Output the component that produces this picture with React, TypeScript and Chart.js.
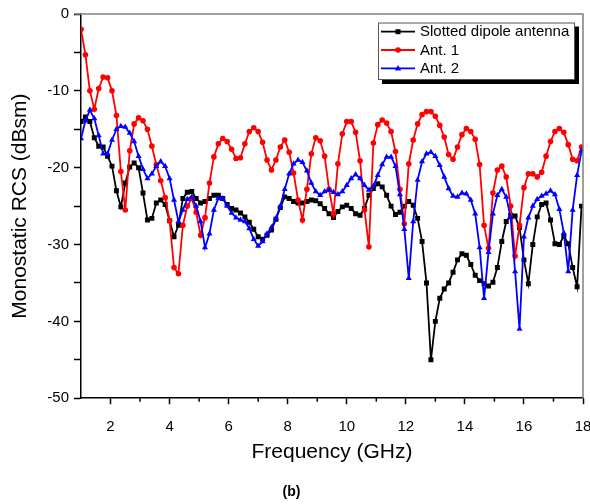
import React, { useEffect, useRef } from 'react';
import { Chart, registerables } from 'chart.js';

Chart.register(...registerables);

const FONT = '"Liberation Sans", Arial, sans-serif';

const frequencies = [
  1, 1.15, 1.3, 1.45, 1.6, 1.75, 1.9, 2.05, 2.2, 2.35,
  2.5, 2.65, 2.8, 2.95, 3.1, 3.25, 3.4, 3.55, 3.7, 3.85,
  4, 4.15, 4.3, 4.45, 4.6, 4.75, 4.9, 5.05, 5.2, 5.35,
  5.5, 5.65, 5.8, 5.95, 6.1, 6.25, 6.4, 6.55, 6.7, 6.85,
  7, 7.15, 7.3, 7.45, 7.6, 7.75, 7.9, 8.05, 8.2, 8.35,
  8.5, 8.65, 8.8, 8.95, 9.1, 9.25, 9.4, 9.55, 9.7, 9.85,
  10, 10.15, 10.3, 10.45, 10.6, 10.75, 10.9, 11.05, 11.2, 11.35,
  11.5, 11.65, 11.8, 11.95, 12.1, 12.25, 12.4, 12.55, 12.7, 12.85,
  13, 13.15, 13.3, 13.45, 13.6, 13.75, 13.9, 14.05, 14.2, 14.35,
  14.5, 14.65, 14.8, 14.95, 15.1, 15.25, 15.4, 15.55, 15.7, 15.85,
  16, 16.15, 16.3, 16.45, 16.6, 16.75, 16.9, 17.05, 17.2, 17.35,
  17.5, 17.65, 17.8, 17.95,
];

const slottedDipole = [
  -14.0, -13.4, -14.0, -16.1, -17.2, -17.3, -18.5, -19.8, -23.0, -25.1,
  -22.0, -19.9, -19.4, -20.0, -23.3, -26.8, -26.6, -24.6, -24.2, -24.8,
  -26.9, -29.0, -27.5, -24.0, -23.2, -23.1, -24.0, -24.6, -24.4, -24.0,
  -23.6, -23.6, -24.0, -24.8, -25.3, -25.5, -25.9, -26.4, -27.1, -28.0,
  -29.0, -29.3, -28.8, -28.1, -26.7, -25.2, -23.8, -24.0, -24.4, -24.6,
  -24.6, -24.4, -24.2, -24.3, -24.7, -25.3, -26.0, -26.5, -25.7, -25.1,
  -24.9, -25.3, -26.0, -26.2, -25.3, -23.6, -22.7, -22.1, -22.5, -23.6,
  -25.0, -26.1, -25.8, -25.0, -24.4, -24.9, -26.6, -29.6, -35.0, -45.0,
  -40.0, -37.0, -35.8, -35.0, -33.6, -32.0, -31.2, -31.4, -32.6, -34.0,
  -34.7, -35.1, -35.4, -34.9, -33.0, -29.6, -27.0, -26.2, -26.3, -27.8,
  -32.0, -35.1, -30.0, -26.4, -24.8, -24.6, -26.8, -29.9, -30.0, -28.9,
  -29.9, -33.0, -35.5, -25.0,
];

const ant1 = [
  -2.0, -5.3, -10.0, -12.4, -9.7, -8.2, -8.3, -10.0, -13.2, -20.5,
  -25.5, -17.8, -14.3, -13.5, -13.9, -15.0, -17.2, -19.6, -21.7, -23.9,
  -26.9, -33.0, -33.8, -27.5, -25.0, -24.0, -25.8, -28.8, -26.5, -22.0,
  -18.6, -16.9, -16.2, -16.6, -17.6, -18.8, -18.7, -16.9, -15.3, -14.8,
  -15.3, -16.7, -19.0, -20.3, -19.0, -17.3, -16.4, -18.0, -20.7, -24.2,
  -26.8, -22.8, -18.2, -16.1, -16.5, -18.5, -22.8, -26.0, -19.5, -15.6,
  -14.0, -14.0, -15.4, -19.1, -25.5, -30.3, -16.8, -14.4, -13.8, -14.2,
  -15.3, -17.9, -22.8, -27.3, -19.5, -16.4, -14.3, -13.1, -12.7, -12.7,
  -13.3, -14.5, -16.0, -18.3, -18.9, -17.3, -15.7, -14.9, -15.3, -16.3,
  -19.6, -27.5, -30.5, -23.3, -20.3, -19.8, -21.2, -25.0, -31.5, -27.5,
  -22.6, -20.8, -20.8, -21.2, -20.6, -18.5, -16.6, -15.3, -14.9, -15.4,
  -17.0, -18.9, -19.1, -17.3,
];

const ant2 = [
  -16.2, -13.9, -12.5, -13.6, -15.8, -18.2, -18.2, -16.4, -15.0, -14.6,
  -14.7, -15.5, -16.6, -18.5, -20.2, -21.4, -20.8, -19.8, -19.2, -19.8,
  -21.4, -24.2, -27.0, -25.5, -24.1, -23.8, -25.0, -27.0, -30.4, -28.6,
  -25.5, -24.0, -24.0, -25.0, -25.9, -26.5, -26.8, -27.0, -27.9, -29.3,
  -30.2, -29.6, -28.6, -27.8, -26.6, -25.0, -22.8, -20.8, -19.5, -19.0,
  -19.3, -20.4, -22.0, -23.1, -23.6, -23.1, -22.9, -23.2, -23.5, -23.1,
  -22.3, -21.4, -20.9, -21.4, -22.3, -22.9, -22.4, -21.0, -19.6, -18.6,
  -18.6, -19.8, -23.5, -28.0, -34.4, -27.0, -21.6, -19.2, -18.2, -18.0,
  -18.5, -19.7, -21.2, -22.7, -23.7, -23.8, -23.3, -23.4, -24.2, -26.0,
  -30.4, -37.0, -31.0, -26.0, -23.6, -22.8, -23.8, -26.5, -33.5, -41.0,
  -29.0, -26.5, -25.0, -24.1, -23.7, -23.4, -23.0, -23.5, -25.4, -28.5,
  -33.5, -25.5, -21.0, -17.8,
];

const seriesNames = ['Slotted dipole antenna', 'Ant. 1', 'Ant. 2'];
const seriesColors = ['#000000', '#ff0000', '#0000ff'];
const seriesMarkers = ['rect', 'circle', 'triangle'];

const toPoints = (vals: number[]) => frequencies.map((f, i) => ({ x: f, y: vals[i] }));

function drawMarker(ctx: CanvasRenderingContext2D, style: string, x: number, y: number, color: string) {
  ctx.save();
  ctx.fillStyle = color;
  ctx.beginPath();
  if (style === 'rect') {
    ctx.rect(x - 2.5, y - 2.5, 5, 5);
  } else if (style === 'circle') {
    ctx.arc(x, y, 2.8, 0, Math.PI * 2);
  } else {
    ctx.moveTo(x, y - 3.4);
    ctx.lineTo(x + 3.2, y + 2.3);
    ctx.lineTo(x - 3.2, y + 2.3);
    ctx.closePath();
  }
  ctx.fill();
  ctx.restore();
}

const decorPlugin = {
  id: 'decor',
  afterDraw(chart: any) {
    const ctx: CanvasRenderingContext2D = chart.ctx;
    const { left, right, top, bottom } = chart.chartArea;
    const xs = chart.scales.x;
    ctx.save();
    // top & right frame
    ctx.strokeStyle = '#808080';
    ctx.lineWidth = 1.5;
    ctx.beginPath();
    ctx.moveTo(left - 6, top);
    ctx.lineTo(right, top);
    ctx.lineTo(right, bottom);
    ctx.stroke();
    // minor x ticks
    ctx.strokeStyle = '#000';
    ctx.lineWidth = 1.5;
    for (let v = 3; v <= 17; v += 2) {
      const px = xs.getPixelForValue(v);
      ctx.beginPath();
      ctx.moveTo(px, bottom);
      ctx.lineTo(px, bottom + 3.5);
      ctx.stroke();
    }
    // legend
    const bx = 378, by = 22.5, bw = 197, bh = 57.5;
    ctx.fillStyle = '#000';
    ctx.fillRect(bx + 4, by + 4, bw, bh);
    ctx.fillStyle = '#fff';
    ctx.fillRect(bx, by, bw, bh);
    ctx.strokeStyle = '#555';
    ctx.lineWidth = 1;
    ctx.strokeRect(bx + 0.5, by + 0.5, bw - 1, bh - 1);
    ctx.font = `15px ${FONT}`;
    ctx.textBaseline = 'middle';
    ctx.textAlign = 'left';
    for (let i = 0; i < seriesNames.length; i++) {
      const y = 31.7 + 18.3 * i;
      ctx.strokeStyle = seriesColors[i];
      ctx.lineWidth = 1.8;
      ctx.beginPath();
      ctx.moveTo(381, y);
      ctx.lineTo(415, y);
      ctx.stroke();
      drawMarker(ctx, seriesMarkers[i], 398, y, seriesColors[i]);
      ctx.fillStyle = '#000';
      ctx.fillText(seriesNames[i], 420, y + 0.5);
    }
    ctx.restore();
  },
};

export default function App() {
  const ref = useRef<HTMLCanvasElement | null>(null);

  useEffect(() => {
    if (!ref.current) return;
    const mk = (i: number, vals: number[], order: number) => ({
      label: seriesNames[i],
      data: toPoints(vals),
      borderColor: seriesColors[i],
      backgroundColor: seriesColors[i],
      borderWidth: 1.8,
      pointStyle: seriesMarkers[i],
      pointRadius: i === 0 ? 3.5 : i === 1 ? 2.8 : 3.5,
      pointBorderWidth: 0,
      pointBackgroundColor: seriesColors[i],
      tension: 0,
      order,
    });
    const chart = new Chart(ref.current, {
      type: 'line',
      data: {
        datasets: [mk(0, slottedDipole, 3), mk(1, ant1, 2), mk(2, ant2, 1)],
      },
      options: {
        animation: false,
        responsive: false,
        maintainAspectRatio: false,
        layout: { padding: { top: 14, right: 7, left: 0, bottom: 0 } },
        plugins: {
          legend: { display: false },
          tooltip: { enabled: false },
          title: {
            display: true,
            position: 'bottom',
            text: '(b)',
            color: '#000',
            font: { family: FONT, size: 14, weight: 'bold' },
            padding: { top: 0, bottom: 3 },
          },
        },
        scales: {
          x: {
            type: 'linear',
            min: 1,
            max: 18,
            afterFit: (s: any) => { s.height = 86; s.paddingLeft = 0; s.paddingRight = 0; },
            ticks: {
              stepSize: 1,
              autoSkip: false,
              maxRotation: 0,
              padding: 14,
              color: '#000',
              font: { family: FONT, size: 15 },
              callback: (v: any) => (Number(v) % 2 === 0 ? String(v) : ''),
            },
            grid: {
              drawOnChartArea: false,
              drawTicks: true,
              tickLength: 6,
              tickWidth: 1.5,
              tickColor: (c: any) => (c.tick && Number(c.tick.value) % 2 === 0 ? '#000' : 'rgba(0,0,0,0)'),
            },
            border: { color: '#000', width: 1.5 },
            title: {
              display: true,
              text: 'Frequency (GHz)',
              color: '#000',
              font: { family: FONT, size: 21 },
              padding: { top: 0, bottom: 19 },
            },
          },
          y: {
            type: 'linear',
            min: -50,
            max: 0,
            afterFit: (s: any) => { s.width = 81; s.paddingTop = 0; s.paddingBottom = 0; },
            ticks: {
              stepSize: 5,
              autoSkip: false,
              padding: 5,
              color: '#000',
              font: { family: FONT, size: 15 },
              callback: (v: any) => (Number(v) % 10 === 0 ? String(v) : ''),
            },
            grid: {
              drawOnChartArea: false,
              drawTicks: true,
              tickLength: 7,
              tickWidth: 1.5,
              tickColor: '#000',
            },
            border: { color: '#000', width: 1.5 },
            title: {
              display: true,
              text: 'Monostatic RCS (dBsm)',
              color: '#000',
              font: { family: FONT, size: 21 },
              padding: { top: 8, bottom: 0 },
            },
          },
        },
      },
      plugins: [decorPlugin],
    } as any);
    return () => chart.destroy();
  }, []);

  return (
    <div style={{ position: 'fixed', left: 0, top: 0, width: 590, height: 504, background: '#fff' }}>
      <canvas ref={ref} width={590} height={504} style={{ width: 590, height: 504, display: 'block' }} />
    </div>
  );
}
